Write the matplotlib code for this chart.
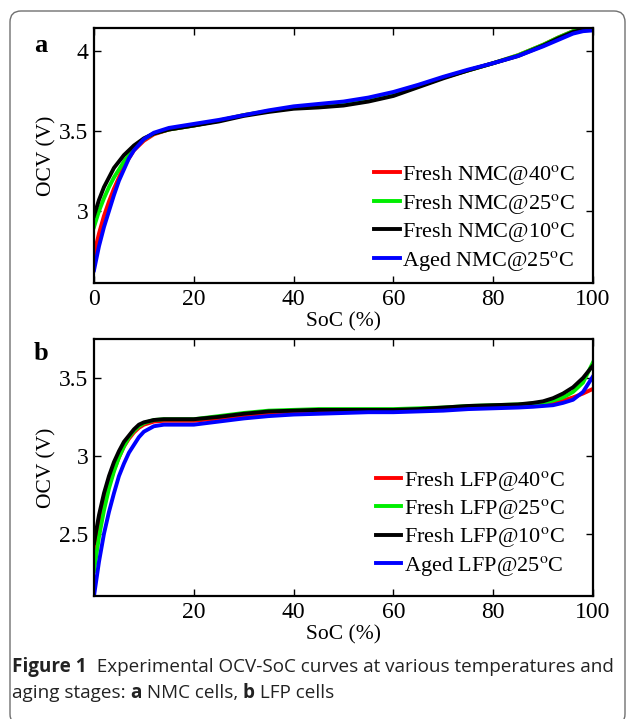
import numpy as np
import matplotlib
matplotlib.use('Agg')
import matplotlib.pyplot as plt
import matplotlib.patches as mpatches
import matplotlib.transforms as mtransforms

plt.rcParams['font.family'] = 'Liberation Serif'
plt.rcParams['mathtext.fontset'] = 'stix'

# ---- panel a: NMC cells ----
soc_a = [0, 1, 2, 3, 4, 5, 6, 7, 8, 10, 12, 15, 20, 25, 30, 35, 40, 45, 50,
         55, 60, 65, 70, 75, 80, 85, 90, 93, 96, 98, 100]
nmc_40 = [2.73, 2.86, 2.97, 3.06, 3.14, 3.21, 3.28, 3.33, 3.38, 3.44, 3.48, 3.51, 3.535,
          3.565, 3.60, 3.625, 3.645, 3.655, 3.67, 3.695, 3.73, 3.78, 3.835, 3.88,
          3.925, 3.975, 4.04, 4.085, 4.125, 4.14, 4.145]
nmc_25 = [2.90, 3.00, 3.08, 3.15, 3.21, 3.26, 3.31, 3.35, 3.39, 3.45, 3.485, 3.51, 3.535,
          3.565, 3.60, 3.625, 3.645, 3.652, 3.665, 3.69, 3.725, 3.78, 3.835, 3.88,
          3.925, 3.975, 4.04, 4.085, 4.125, 4.14, 4.14]
nmc_10 = [2.97, 3.07, 3.15, 3.21, 3.27, 3.31, 3.35, 3.38, 3.41, 3.455, 3.485, 3.51, 3.535,
          3.56, 3.595, 3.62, 3.64, 3.648, 3.66, 3.685, 3.72, 3.775, 3.83, 3.88,
          3.925, 3.97, 4.035, 4.08, 4.12, 4.135, 4.14]
nmc_aged = [2.63, 2.78, 2.90, 3.00, 3.10, 3.19, 3.26, 3.33, 3.38, 3.45, 3.49, 3.52, 3.545,
            3.57, 3.60, 3.63, 3.655, 3.67, 3.685, 3.71, 3.745, 3.79, 3.84, 3.885,
            3.925, 3.97, 4.03, 4.07, 4.11, 4.125, 4.13]

# ---- panel b: LFP cells ----
soc_b = [0, 1, 2, 3, 4, 5, 6, 7, 8, 9, 10, 12, 14, 17, 20, 25, 30, 35, 40, 45, 50,
         55, 60, 65, 70, 75, 80, 85, 88, 90, 92, 94, 96, 98, 100]
lfp_40 = [2.38, 2.55, 2.69, 2.81, 2.91, 2.99, 3.06, 3.11, 3.15, 3.18, 3.20, 3.22, 3.225, 3.225,
          3.225, 3.24, 3.26, 3.275, 3.285, 3.29, 3.29, 3.29, 3.29, 3.295, 3.30, 3.31,
          3.315, 3.32, 3.325, 3.33, 3.34, 3.355, 3.375, 3.40, 3.43]
lfp_25 = [2.26, 2.48, 2.65, 2.79, 2.90, 2.99, 3.06, 3.12, 3.16, 3.19, 3.21, 3.23, 3.235, 3.235,
          3.235, 3.255, 3.275, 3.29, 3.295, 3.30, 3.30, 3.30, 3.30, 3.305, 3.31, 3.32,
          3.325, 3.33, 3.335, 3.34, 3.355, 3.375, 3.41, 3.47, 3.60]
lfp_10 = [2.44, 2.62, 2.76, 2.87, 2.96, 3.03, 3.09, 3.13, 3.17, 3.20, 3.215, 3.23, 3.235, 3.235,
          3.235, 3.25, 3.27, 3.285, 3.29, 3.295, 3.295, 3.295, 3.295, 3.30, 3.31, 3.32,
          3.325, 3.33, 3.34, 3.35, 3.37, 3.40, 3.44, 3.50, 3.58]
lfp_aged = [2.10, 2.32, 2.50, 2.64, 2.76, 2.87, 2.95, 3.02, 3.07, 3.12, 3.155, 3.19, 3.20, 3.20,
            3.20, 3.22, 3.24, 3.255, 3.265, 3.27, 3.275, 3.28, 3.28, 3.285, 3.29, 3.30,
            3.305, 3.31, 3.315, 3.32, 3.325, 3.34, 3.36, 3.41, 3.51]

colors = ['red', '#00ee00', 'black', 'blue']
temps = ['40', '25', '10', '25']
kinds = ['Fresh', 'Fresh', 'Fresh', 'Aged']

W, H = 630, 719
fig = plt.figure(figsize=(W / 100, H / 100), dpi=100)

# rounded frame around the whole figure (pixel coords)
frame = mpatches.FancyBboxPatch((10, -6), 615, 714,
                                boxstyle='round,pad=0,rounding_size=11',
                                transform=mtransforms.IdentityTransform(),
                                facecolor='none', edgecolor='#707070', linewidth=1.0)
fig.add_artist(frame)


def make_ax(top, bottom):
    ax = fig.add_axes([94 / W, 1 - bottom / H, 499 / W, (bottom - top) / H])
    for s in ax.spines.values():
        s.set_linewidth(1.6)
    ax.tick_params(direction='in', top=True, right=True, length=5, width=1.0,
                   labelsize=17, pad=4)
    return ax


def add_legend(ax, anchor):
    ax.legend(loc='lower right', frameon=False, fontsize=16, handlelength=1.15,
              handletextpad=0.1, labelspacing=0.2, borderaxespad=0.3,
              bbox_to_anchor=anchor)


ax1 = make_ax(28, 283)
series_a = [nmc_40, nmc_25, nmc_10, nmc_aged]
for i, v in enumerate(series_a):
    ax1.plot(soc_a, v, color=colors[i], lw=2.8,
             label=kinds[i] + ' NMC@' + temps[i] + r'$^{\rm o}$C')
ax1.set_xlim(0, 100)
ax1.set_ylim(2.55, 4.145)
ax1.set_xticks([0, 20, 40, 60, 80, 100])
ax1.set_yticks([3, 3.5, 4])
ax1.set_yticklabels(['3', '3.5', '4'])
ax1.set_xlabel('SoC (%)', fontsize=15.5, labelpad=2)
ax1.set_ylabel('OCV (V)', fontsize=15.5, labelpad=2)
add_legend(ax1, (0.995, -0.02))
fig.text(41 / W, 1 - 46 / H, 'a', fontsize=19, fontweight='bold', va='center', ha='center')

ax2 = make_ax(339, 596)
series_b = [lfp_40, lfp_25, lfp_10, lfp_aged]
for i, v in enumerate(series_b):
    ax2.plot(soc_b, v, color=colors[i], lw=2.8,
             label=kinds[i] + ' LFP@' + temps[i] + r'$^{\rm o}$C')
ax2.set_xlim(0, 100)
ax2.set_ylim(2.10, 3.75)
ax2.set_xticks([20, 40, 60, 80, 100])
ax2.set_yticks([2.5, 3, 3.5])
ax2.set_yticklabels(['2.5', '3', '3.5'])
ax2.set_xlabel('SoC (%)', fontsize=15.5, labelpad=2)
ax2.set_ylabel('OCV (V)', fontsize=15.5, labelpad=2)
add_legend(ax2, (0.974, 0.01))
fig.text(41 / W, 1 - 354 / H, 'b', fontsize=19, fontweight='bold', va='center', ha='center')

# caption with mixed bold / regular pieces
fig.canvas.draw()
renderer = fig.canvas.get_renderer()


def caption_line(pieces, x, y):
    for txt, bold in pieces:
        t = fig.text(x / W, 1 - y / H, txt, fontsize=13.6, family='Open Sans',
                     fontweight='bold' if bold else 'normal', va='center', ha='left',
                     color='#222222')
        bb = t.get_window_extent(renderer)
        x += bb.width


caption_line([('Figure 1', True),
              ('  Experimental OCV-SoC curves at various temperatures and', False)], 12, 667)
caption_line([('aging stages: ', False), ('a', True), (' NMC cells, ', False),
              ('b', True), (' LFP cells', False)], 12, 693)

fig.savefig('out.png', dpi=100)
